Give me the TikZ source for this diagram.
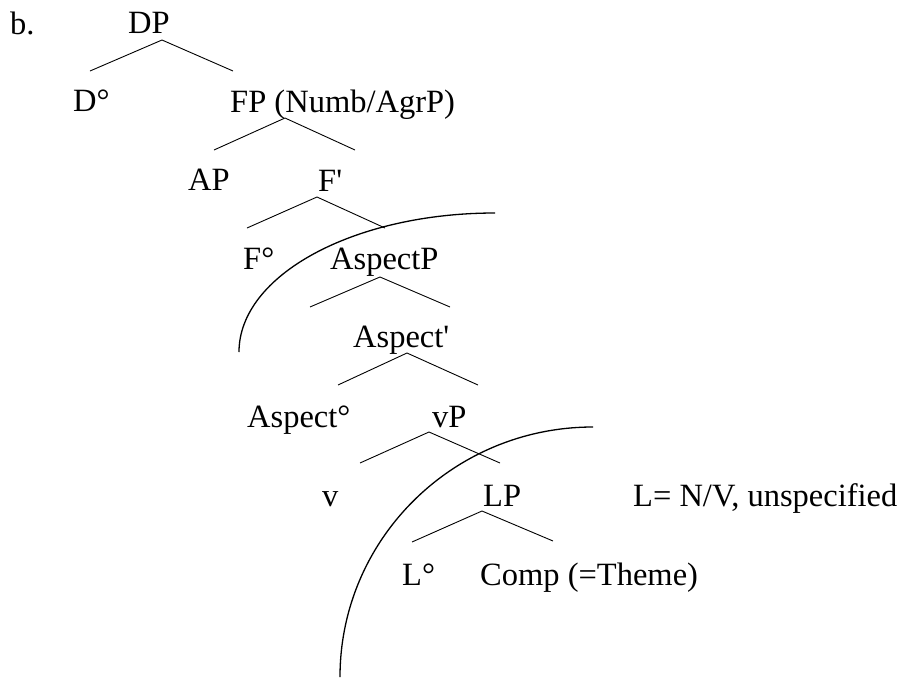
\documentclass[tikz,border=0pt]{standalone}
\usepackage{fontspec}
\setmainfont{Liberation Serif}
\begin{document}
\begin{tikzpicture}[x=1pt, y=-1pt]
    \tikzstyle{treelabel} = [anchor=base west, inner sep=0pt,
      font=\fontsize{32.5}{39}\selectfont]
    \tikzstyle{branch} = [line width=0.9pt]
    \tikzstyle{phasearc} = [line width=1.3pt]

    \fill [white] (0,0) rectangle (903,678);
    \useasboundingbox (0,0) rectangle (903,678);

    \node (ex) [treelabel] at (10,34) {b.};
    \node (dp) [treelabel] at (128,33) {DP};
    \node (dhead) [treelabel] at (73,111) {D°};
    \node (fp) [treelabel] at (230,112) {FP (Numb/AgrP)};
    \node (ap) [treelabel] at (188,190) {AP};
    \node (fbar) [treelabel] at (318,191) {F\textquotesingle};
    \node (fhead) [treelabel] at (243,269) {F°};
    \node (aspp) [treelabel] at (330,269) {AspectP};
    \node (aspbar) [treelabel] at (353,347) {Aspect\textquotesingle};
    \node (asphead) [treelabel] at (247,427) {Aspect°};
    \node (vp) [treelabel] at (432,427) {vP};
    \node (v) [treelabel] at (322,506) {v};
    \node (lp) [treelabel] at (483,506) {LP};
    \node (note) [treelabel] at (633,506) {L= N/V, unspecified};
    \node (lhead) [treelabel] at (402,585) {L°};
    \node (comp) [treelabel] at (480,585) {Comp (=Theme)};

    \coordinate (dptop) at (162,40);
    \coordinate (dpl) at (90,71);
    \coordinate (dpr) at (233,71);
    \coordinate (fptop) at (285,118);
    \coordinate (fpl) at (214,150);
    \coordinate (fpr) at (355,150);
    \coordinate (fbartop) at (317,197);
    \coordinate (fbarl) at (247,228);
    \coordinate (fbarr) at (385,228);
    \coordinate (aspptop) at (380,277);
    \coordinate (asppl) at (310,307);
    \coordinate (asppr) at (450,307);
    \coordinate (aspbartop) at (407,353);
    \coordinate (aspbarl) at (338,385);
    \coordinate (aspbarr) at (478,385);
    \coordinate (vptop) at (429,432);
    \coordinate (vpl) at (360,463);
    \coordinate (vpr) at (500,463);
    \coordinate (lptop) at (482,511);
    \coordinate (lpl) at (412,542);
    \coordinate (lpr) at (553,541);

    \draw [branch] (dpl) -- (dptop) -- (dpr);
    \draw [branch] (fpl) -- (fptop) -- (fpr);
    \draw [branch] (fbarl) -- (fbartop) -- (fbarr);
    \draw [branch] (asppl) -- (aspptop) -- (asppr);
    \draw [branch] (aspbarl) -- (aspbartop) -- (aspbarr);
    \draw [branch] (vpl) -- (vptop) -- (vpr);
    \draw [branch] (lpl) -- (lptop) -- (lpr);

    \coordinate (upperarc) at (239,352);
    \coordinate (lowerarc) at (340,677);
    \draw [phasearc] (upperarc) arc[start angle=180, end angle=270,
      x radius=256, y radius=139];
    \draw [phasearc] (lowerarc) arc[start angle=180, end angle=270,
      x radius=253, y radius=250];
\end{tikzpicture}
\end{document}
